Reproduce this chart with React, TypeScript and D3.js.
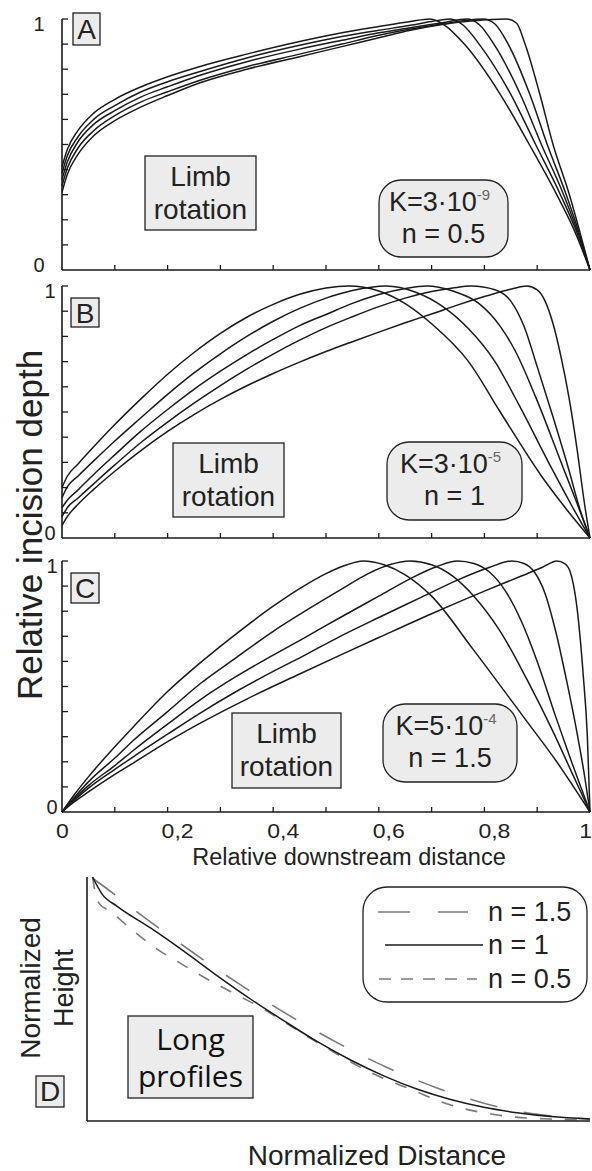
import React from "react";
import * as d3 from "d3";

type Pt = [number, number];

// Relative incision depth vs relative downstream distance, five time steps per panel
const profilesA: Pt[][] = [
  [[0,0.41],[0.01,0.48],[0.03,0.555],[0.06,0.625],[0.1,0.68],[0.15,0.73],[0.2,0.77],[0.26,0.81],[0.35,0.86],[0.45,0.91],[0.53,0.945],[0.6,0.97],[0.66,0.99],[0.697,1.0],[0.725,0.975],[0.762,0.9],[0.83,0.7],[0.885,0.5],[0.937,0.3],[0.972,0.15],[1,0]],
  [[0,0.385],[0.01,0.455],[0.03,0.53],[0.06,0.6],[0.1,0.655],[0.15,0.71],[0.2,0.75],[0.26,0.79],[0.35,0.845],[0.45,0.895],[0.53,0.93],[0.6,0.955],[0.66,0.975],[0.7,0.99],[0.735,1.0],[0.76,0.975],[0.79,0.9],[0.85,0.7],[0.897,0.5],[0.944,0.3],[0.975,0.15],[1,0]],
  [[0,0.36],[0.01,0.43],[0.03,0.51],[0.06,0.58],[0.1,0.635],[0.15,0.69],[0.2,0.73],[0.26,0.775],[0.35,0.83],[0.45,0.88],[0.53,0.915],[0.6,0.945],[0.66,0.965],[0.72,0.985],[0.767,1.0],[0.79,0.978],[0.818,0.9],[0.868,0.7],[0.908,0.5],[0.95,0.3],[0.977,0.15],[1,0]],
  [[0,0.335],[0.01,0.405],[0.03,0.485],[0.06,0.555],[0.1,0.615],[0.15,0.67],[0.2,0.71],[0.26,0.755],[0.35,0.81],[0.45,0.86],[0.53,0.9],[0.6,0.935],[0.66,0.96],[0.72,0.98],[0.76,0.993],[0.798,1.0],[0.82,0.98],[0.845,0.9],[0.886,0.7],[0.919,0.5],[0.955,0.3],[0.979,0.15],[1,0]],
  [[0,0.31],[0.01,0.38],[0.03,0.46],[0.06,0.535],[0.1,0.595],[0.15,0.65],[0.2,0.695],[0.26,0.745],[0.35,0.8],[0.45,0.85],[0.53,0.89],[0.6,0.925],[0.66,0.955],[0.72,0.978],[0.78,0.993],[0.842,1.0],[0.861,0.983],[0.877,0.9],[0.905,0.7],[0.93,0.5],[0.961,0.3],[0.981,0.15],[1,0]],
];

const profilesB: Pt[][] = [
  [[0,0.2],[0.01,0.245],[0.03,0.293],[0.06,0.362],[0.1,0.45],[0.15,0.553],[0.2,0.65],[0.25,0.736],[0.3,0.812],[0.35,0.876],[0.4,0.927],[0.45,0.967],[0.5,0.992],[0.543,1.0],[0.6,0.98],[0.65,0.93],[0.7,0.85],[0.77,0.7],[0.83,0.5],[0.91,0.24],[0.955,0.115],[1,0]],
  [[0,0.16],[0.01,0.203],[0.03,0.245],[0.06,0.306],[0.1,0.385],[0.15,0.478],[0.2,0.57],[0.25,0.655],[0.3,0.731],[0.35,0.8],[0.4,0.86],[0.45,0.911],[0.5,0.952],[0.55,0.982],[0.614,1.0],[0.67,0.975],[0.72,0.92],[0.77,0.83],[0.82,0.7],[0.865,0.53],[0.929,0.27],[0.965,0.13],[1,0]],
  [[0,0.12],[0.01,0.15],[0.03,0.19],[0.06,0.252],[0.1,0.33],[0.15,0.425],[0.2,0.51],[0.25,0.59],[0.3,0.662],[0.35,0.728],[0.4,0.788],[0.45,0.843],[0.5,0.887],[0.55,0.931],[0.6,0.966],[0.65,0.99],[0.691,1.0],[0.74,0.98],[0.79,0.93],[0.83,0.84],[0.859,0.74],[0.897,0.56],[0.949,0.28],[0.975,0.14],[1,0]],
  [[0,0.085],[0.01,0.12],[0.03,0.158],[0.06,0.215],[0.1,0.29],[0.15,0.38],[0.2,0.46],[0.25,0.535],[0.3,0.605],[0.35,0.67],[0.4,0.73],[0.45,0.785],[0.5,0.835],[0.55,0.878],[0.6,0.918],[0.65,0.952],[0.7,0.978],[0.74,0.992],[0.775,1.0],[0.82,0.985],[0.85,0.94],[0.875,0.84],[0.9,0.68],[0.93,0.48],[0.96,0.27],[0.98,0.12],[1,0]],
  [[0,0.05],[0.01,0.085],[0.03,0.133],[0.06,0.193],[0.1,0.265],[0.15,0.348],[0.2,0.423],[0.25,0.49],[0.3,0.55],[0.35,0.604],[0.4,0.653],[0.45,0.698],[0.5,0.74],[0.55,0.779],[0.6,0.817],[0.65,0.854],[0.7,0.889],[0.75,0.925],[0.8,0.958],[0.84,0.982],[0.865,0.995],[0.88,1.0],[0.9,0.985],[0.915,0.94],[0.93,0.85],[0.945,0.72],[0.96,0.56],[0.975,0.36],[0.99,0.13],[1,0]],
];

const profilesC: Pt[][] = [
  [[0,0],[0.02,0.06],[0.05,0.14],[0.1,0.26],[0.135,0.339],[0.2,0.48],[0.261,0.593],[0.33,0.71],[0.4,0.82],[0.45,0.89],[0.5,0.95],[0.54,0.985],[0.57,1.0],[0.61,0.985],[0.65,0.945],[0.7,0.86],[0.779,0.647],[0.874,0.379],[0.937,0.2],[1,0]],
  [[0,0],[0.02,0.05],[0.05,0.12],[0.1,0.215],[0.135,0.285],[0.2,0.4],[0.261,0.51],[0.33,0.615],[0.4,0.72],[0.46,0.8],[0.527,0.885],[0.58,0.95],[0.62,0.985],[0.659,1.0],[0.7,0.985],[0.74,0.94],[0.78,0.86],[0.83,0.72],[0.88,0.53],[0.93,0.32],[0.965,0.16],[1,0]],
  [[0,0],[0.02,0.045],[0.05,0.105],[0.1,0.185],[0.135,0.245],[0.2,0.35],[0.261,0.446],[0.33,0.54],[0.4,0.625],[0.46,0.695],[0.527,0.775],[0.6,0.86],[0.66,0.93],[0.71,0.978],[0.749,1.0],[0.78,0.99],[0.81,0.955],[0.84,0.88],[0.87,0.76],[0.9,0.6],[0.935,0.38],[0.965,0.2],[1,0]],
  [[0,0],[0.02,0.04],[0.05,0.095],[0.1,0.17],[0.135,0.22],[0.2,0.31],[0.261,0.393],[0.33,0.48],[0.4,0.56],[0.46,0.625],[0.527,0.7],[0.6,0.775],[0.68,0.855],[0.75,0.925],[0.81,0.975],[0.852,1.0],[0.875,0.99],[0.895,0.955],[0.915,0.87],[0.935,0.72],[0.955,0.53],[0.975,0.32],[0.99,0.14],[1,0]],
  [[0,0],[0.02,0.035],[0.05,0.08],[0.1,0.15],[0.135,0.195],[0.2,0.28],[0.261,0.353],[0.35,0.45],[0.45,0.55],[0.527,0.625],[0.6,0.695],[0.7,0.79],[0.8,0.88],[0.87,0.94],[0.91,0.975],[0.937,1.0],[0.952,0.99],[0.962,0.96],[0.975,0.82],[0.987,0.55],[0.995,0.3],[1,0]],
];

// Normalized long profiles (panel D)
const longProfileN15: Pt[] = [[0.011,0.995],[0.054,0.93],[0.1,0.856],[0.15,0.78],[0.2,0.706],[0.25,0.634],[0.3,0.565],[0.35,0.498],[0.4,0.435],[0.45,0.375],[0.5,0.318],[0.55,0.265],[0.6,0.216],[0.65,0.172],[0.7,0.132],[0.75,0.097],[0.8,0.067],[0.85,0.043],[0.9,0.026],[0.95,0.015],[1,0.008]];
const longProfileN1: Pt[] = [[0.011,1.0],[0.03,0.93],[0.06,0.88],[0.127,0.79],[0.193,0.695],[0.259,0.595],[0.325,0.5],[0.392,0.41],[0.458,0.325],[0.524,0.25],[0.59,0.185],[0.657,0.13],[0.723,0.088],[0.789,0.056],[0.855,0.034],[0.922,0.018],[1,0.008]];
const longProfileN05: Pt[] = [[0.011,1.0],[0.016,0.94],[0.024,0.892],[0.047,0.858],[0.09,0.783],[0.137,0.708],[0.186,0.646],[0.236,0.585],[0.286,0.53],[0.35,0.46],[0.42,0.37],[0.48,0.295],[0.541,0.223],[0.6,0.165],[0.644,0.13],[0.696,0.085],[0.75,0.05],[0.806,0.028],[0.85,0.016],[0.92,0.008],[1,0.004]];

const xMinorTicks = [0.1, 0.2, 0.3, 0.4, 0.5, 0.6, 0.7, 0.8, 0.9];
const yMinorTicks = [0.1, 0.2, 0.3, 0.4, 0.5, 0.6, 0.7, 0.8, 0.9, 1.0];
const xTickValues = [0, 0.2, 0.4, 0.6, 0.8, 1];
const xTickLabels = ["0", "0,2", "0,4", "0,6", "0,8", "1"];
const panelLetters = ["A", "B", "C"];
const kMantissa = ["3", "3", "5"];
const kExponent = ["-9", "-5", "-4"];
const nValues = ["0.5", "1", "1.5"];
const legendLabels = ["n = 1.5", "n = 1", "n = 0.5"];

const FONT = "'Liberation Sans', Arial, Helvetica, sans-serif";
const INK = "#1a1a1a";
const BOX_FILL = "#ececec";

const X0 = 62;
const X1 = 590;

const panelLayout = [
  { top: 19, bottom: 270, letter: { x: 73, y: 13, w: 27, h: 32 }, limb: { x: 145, y: 156, w: 111, h: 74 }, kbox: { x: 379, y: 180, w: 129, h: 77 }, endLabelX: 39 },
  { top: 286, bottom: 538, letter: { x: 71, y: 298, w: 28, h: 29 }, limb: { x: 173, y: 443, w: 111, h: 74 }, kbox: { x: 387, y: 442, w: 135, h: 78 }, endLabelX: 50 },
  { top: 561, bottom: 812, letter: { x: 71, y: 573, w: 28, h: 30 }, limb: { x: 232, y: 713, w: 109, h: 75 }, kbox: { x: 383, y: 704, w: 134, h: 78 }, endLabelX: 52 },
];

const profileSets = [profilesA, profilesB, profilesC];

function Panel({ index }: { index: number }) {
  const lay = panelLayout[index];
  const xs = d3.scaleLinear().domain([0, 1]).range([X0, X1]);
  const ys = d3.scaleLinear().domain([0, 1]).range([lay.bottom, lay.top]);
  const line = d3
    .line<Pt>()
    .x((d) => xs(d[0]))
    .y((d) => ys(d[1]))
    .curve(d3.curveMonotoneX);
  const { letter, limb, kbox } = lay;
  return (
    <g>
      {profileSets[index].map((c, i) => (
        <path key={i} d={line(c) || ""} fill="none" stroke={INK} strokeWidth={1.5} />
      ))}
      {/* axes */}
      <line x1={xs(0)} x2={xs(0)} y1={ys(1)} y2={ys(0)} stroke={INK} strokeWidth={1.6} />
      <line x1={xs(0)} x2={xs(1)} y1={ys(0)} y2={ys(0)} stroke={INK} strokeWidth={1.6} />
      {yMinorTicks.map((t) => (
        <line key={"y" + t} x1={xs(0)} x2={xs(0) + 6} y1={ys(t)} y2={ys(t)} stroke={INK} strokeWidth={1.3} />
      ))}
      {xMinorTicks.map((t) => (
        <line key={"x" + t} x1={xs(t)} x2={xs(t)} y1={ys(0)} y2={ys(0) - 5} stroke={INK} strokeWidth={1.3} />
      ))}
      <text x={lay.endLabelX} y={ys(1) + 12} fontSize={20} textAnchor="middle" fill="#222" fontFamily={FONT}>1</text>
      <text x={lay.endLabelX} y={ys(0) + 2} fontSize={20} textAnchor="middle" fill="#222" fontFamily={FONT}>0</text>
      {/* panel letter */}
      <rect x={letter.x} y={letter.y} width={letter.w} height={letter.h} fill={BOX_FILL} stroke="#222" strokeWidth={1.3} />
      <text x={letter.x + letter.w / 2} y={letter.y + letter.h / 2 + 10} fontSize={28} textAnchor="middle" fill="#222" fontFamily={FONT}>{panelLetters[index]}</text>
      {/* process label */}
      <rect x={limb.x} y={limb.y} width={limb.w} height={limb.h} fill={BOX_FILL} stroke="#222" strokeWidth={1.3} />
      <text x={limb.x + limb.w / 2} y={limb.y + 30} fontSize={28} textAnchor="middle" fill="#222" fontFamily={FONT}>Limb</text>
      <text x={limb.x + limb.w / 2} y={limb.y + 63} fontSize={28} textAnchor="middle" fill="#222" fontFamily={FONT}>rotation</text>
      {/* parameter box */}
      <rect x={kbox.x} y={kbox.y} width={kbox.w} height={kbox.h} rx={22} ry={22} fill={BOX_FILL} stroke="#222" strokeWidth={1.3} />
      <text x={kbox.x + kbox.w / 2 - 4} y={kbox.y + 31} fontSize={27} textAnchor="middle" fill="#222" fontFamily={FONT}>
        {"K=" + kMantissa[index] + "\u00b710"}
        <tspan fontSize={15} dy={-11} fill="#666">{kExponent[index]}</tspan>
      </text>
      <text x={kbox.x + kbox.w / 2} y={kbox.y + 63} fontSize={27} textAnchor="middle" fill="#222" fontFamily={FONT}>{"n = " + nValues[index]}</text>
    </g>
  );
}

function LongProfiles() {
  const xs = d3.scaleLinear().domain([0, 1]).range([87, 590]);
  const ys = d3.scaleLinear().domain([0, 1]).range([1121, 877]);
  const line = d3
    .line<Pt>()
    .x((d) => xs(d[0]))
    .y((d) => ys(d[1]))
    .curve(d3.curveMonotoneX);
  const legendRows = [
    { y: 912, x1: 378, x2: 468, dash: "32 28", stroke: "#7a7a7a" },
    { y: 945, x1: 385, x2: 483, dash: "", stroke: INK },
    { y: 979, x1: 379, x2: 477, dash: "12 10", stroke: "#7a7a7a" },
  ];
  return (
    <g>
      <path d={line(longProfileN15) || ""} fill="none" stroke="#7a7a7a" strokeWidth={1.6} strokeDasharray="28 27" />
      <path d={line(longProfileN05) || ""} fill="none" stroke="#7a7a7a" strokeWidth={1.6} strokeDasharray="12 13" />
      <path d={line(longProfileN1) || ""} fill="none" stroke={INK} strokeWidth={1.5} />
      <line x1={xs(0)} x2={xs(0)} y1={ys(1)} y2={ys(0)} stroke={INK} strokeWidth={1.6} />
      <line x1={xs(0)} x2={xs(1)} y1={ys(0)} y2={ys(0)} stroke={INK} strokeWidth={1.6} />
      {/* legend */}
      <rect x={363} y={887} width={224} height={115} rx={24} ry={24} fill="#fff" stroke="#222" strokeWidth={1.3} />
      {legendRows.map((r, i) => (
        <g key={i}>
          <line x1={r.x1} x2={r.x2} y1={r.y} y2={r.y} stroke={r.stroke} strokeWidth={1.6} strokeDasharray={r.dash || undefined} />
          <text x={488} y={r.y + 9} fontSize={27} fill="#222" fontFamily={FONT}>{legendLabels[i]}</text>
        </g>
      ))}
      {/* label box */}
      <rect x={128} y={1016} width={125} height={82} fill={BOX_FILL} stroke="#222" strokeWidth={1.3} />
      <text x={190.5} y={1050} fontSize={30} textAnchor="middle" fill="#111" fontFamily="'Open Sans', 'Noto Sans', sans-serif">Long</text>
      <text x={190.5} y={1087} fontSize={30} textAnchor="middle" fill="#111" fontFamily="'Open Sans', 'Noto Sans', sans-serif">profiles</text>
      {/* panel letter */}
      <rect x={36} y={1076} width={28} height={31} fill={BOX_FILL} stroke="#222" strokeWidth={1.3} />
      <text x={50} y={1101} fontSize={28} textAnchor="middle" fill="#222" fontFamily={FONT}>D</text>
      {/* axis titles */}
      <text transform="translate(40,988) rotate(-90)" fontSize={28} textAnchor="middle" fill="#222" fontFamily={FONT}>Normalized</text>
      <text transform="translate(73,988) rotate(-90)" fontSize={27} textAnchor="middle" fill="#222" fontFamily={FONT}>Height</text>
      <text x={377} y={1165} fontSize={28} textAnchor="middle" fill="#222" fontFamily={FONT}>Normalized Distance</text>
    </g>
  );
}

export default function App() {
  const xs = d3.scaleLinear().domain([0, 1]).range([X0, X1]);
  const last = xTickValues.length - 1;
  return (
    <svg
      width={592}
      height={1171}
      viewBox="0 0 592 1171"
      style={{ position: "absolute", left: 0, top: 0, background: "#fff" }}
    >
      <rect x={0} y={0} width={592} height={1171} fill="#fff" />
      {panelLayout.map((_, i) => (
        <Panel key={i} index={i} />
      ))}
      {/* shared x tick labels below panel C */}
      {xTickValues.map((v, i) => (
        <text
          key={v}
          transform={i === last ? `translate(${xs(v) + 2},838) scale(1.15,1)` : `translate(${xs(v) - 6},838) scale(1.15,1)`}
          textAnchor={i === last ? "end" : "start"}
          fontSize={20}
          fill="#222"
          fontFamily={FONT}
        >
          {xTickLabels[i]}
        </text>
      ))}
      <text x={349} y={865} fontSize={23.5} textAnchor="middle" fill="#222" fontFamily={FONT}>
        Relative downstream distance
      </text>
      <text transform="translate(42,525) rotate(-90)" fontSize={35} textAnchor="middle" fill="#222" fontFamily={FONT}>
        Relative incision depth
      </text>
      <LongProfiles />
    </svg>
  );
}
